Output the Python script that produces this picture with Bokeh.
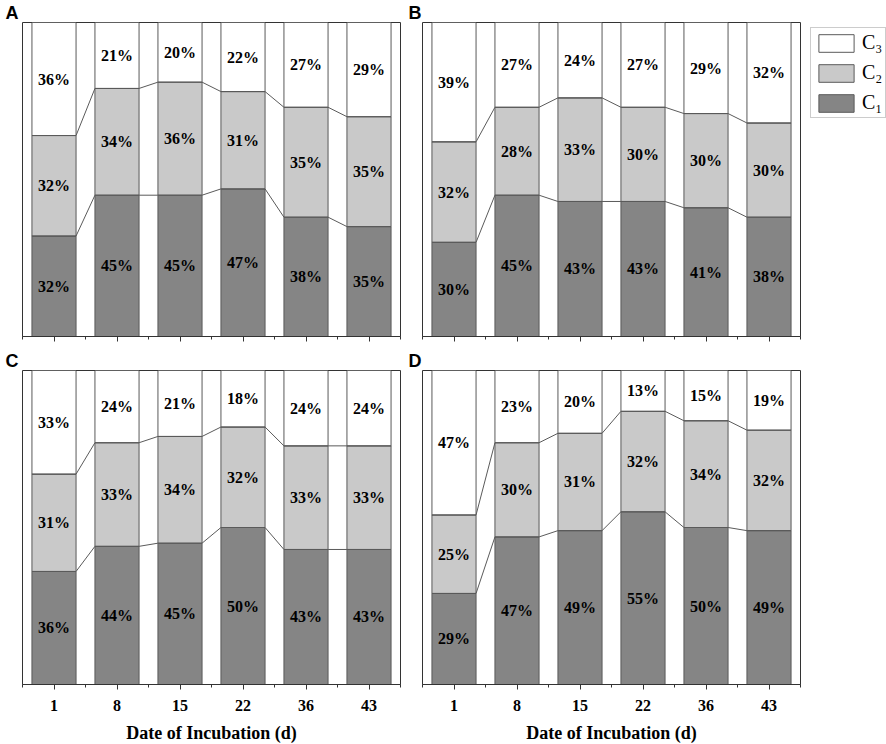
import numpy as np
from bokeh.plotting import figure
from bokeh.models import FixedTicker, Legend, LegendItem, Range1d
from bokeh.layouts import column, row
from bokeh.embed import file_html
from bokeh.resources import INLINE
from bokeh.core.properties import value

# ---------------- data ----------------
days = ["1", "8", "15", "22", "36", "43"]
series_names = ["C\u2081", "C\u2082", "C\u2083"]

c1_A = [32, 45, 45, 47, 38, 35]
c2_A = [32, 34, 36, 31, 35, 35]
c3_A = [36, 21, 20, 22, 27, 29]

c1_B = [30, 45, 43, 43, 41, 38]
c2_B = [32, 28, 33, 30, 30, 30]
c3_B = [39, 27, 24, 27, 29, 32]

c1_C = [36, 44, 45, 50, 43, 43]
c2_C = [31, 33, 34, 32, 33, 33]
c3_C = [33, 24, 21, 18, 24, 24]

c1_D = [29, 47, 49, 55, 50, 49]
c2_D = [25, 30, 31, 32, 34, 32]
c3_D = [47, 23, 20, 13, 15, 19]

TOTAL = 100
x_title = "Date of Incubation (d)"

# ---------------- style ----------------
FW, FH = 378, 314
W = 0.7
COL1, COL2, COL3 = "#858585", "#c9c9c9", "#ffffff"
EDGE = "#5a5a5a"
FRAME = "#333333"
SERIF = "Liberation Serif"


def make_panel(letter, c1, c2, c3, bottom_row, with_legend,
               bl, br, bt, bb, letter_offset):
    p = figure(frame_width=FW, frame_height=FH, output_backend="svg",
               toolbar_location=None, x_range=Range1d(0.5, len(days) + 0.5),
               y_range=Range1d(0, TOTAL),
               min_border_left=bl, min_border_right=br,
               min_border_top=bt, min_border_bottom=bb)
    p.background_fill_color = "white"
    p.border_fill_color = "white"
    p.outline_line_color = FRAME
    p.outline_line_width = 1
    p.xgrid.visible = False
    p.ygrid.visible = False
    p.yaxis.visible = False

    # panel letter as the title
    p.title.text = letter
    p.title.align = "left"
    p.title.offset = letter_offset
    p.title.standoff = 0
    p.title.text_font = "Liberation Sans"
    p.title.text_font_style = "bold"
    p.title.text_font_size = "18px"
    p.title.text_color = "black"

    x = np.arange(1, len(days) + 1)
    c1 = np.array(c1, dtype=float)
    c2 = np.array(c2, dtype=float)
    c3 = np.array(c3, dtype=float)
    cum1 = c1
    cum2 = c1 + c2
    top = np.full(len(x), float(TOTAL))

    r1 = p.vbar(x=x, bottom=0, top=cum1, width=W, fill_color=COL1,
                line_color=EDGE, line_width=1)
    r2 = p.vbar(x=x, bottom=cum1, top=cum2, width=W, fill_color=COL2,
                line_color=EDGE, line_width=1)
    r3 = p.vbar(x=x, bottom=cum2, top=top, width=W, fill_color=COL3,
                line_color=EDGE, line_width=1)

    # connecting lines along the segment boundaries
    xs = np.ravel(np.column_stack([x - W / 2, x + W / 2]))
    for level in (cum1, cum2):
        p.line(xs, np.repeat(level, 2), line_color=EDGE, line_width=1)

    # percentage labels
    for vals, lo, hi in ((c1, np.zeros(len(x)), cum1), (c2, cum1, cum2),
                         (c3, cum2, top)):
        p.text(x=x, y=(lo + hi) / 2, text=[f"{int(v)}%" for v in vals],
               text_align="center", text_baseline="middle",
               text_font=value(SERIF), text_font_style="bold",
               text_font_size="16px", text_color="black")

    ax = p.xaxis[0]
    ax.ticker = FixedTicker(ticks=list(x),
                            minor_ticks=list(np.arange(0.5, len(days) + 1, 1.0)))
    ax.axis_line_color = FRAME
    ax.major_tick_line_color = FRAME
    ax.minor_tick_line_color = FRAME
    ax.major_tick_out = 5
    ax.major_tick_in = 0
    ax.minor_tick_out = 3
    ax.minor_tick_in = 0
    if bottom_row:
        ax.major_label_overrides = {int(i): d for i, d in zip(x, days)}
        ax.major_label_text_font = SERIF
        ax.major_label_text_font_style = "bold"
        ax.major_label_text_font_size = "16px"
        ax.major_label_text_color = "black"
        ax.major_label_standoff = 10
        ax.axis_label = x_title
        ax.axis_label_text_font = SERIF
        ax.axis_label_text_font_style = "bold"
        ax.axis_label_text_font_size = "18px"
        ax.axis_label_text_color = "black"
        ax.axis_label_standoff = 9
    else:
        ax.major_label_overrides = {int(i): "" for i in x}
        ax.major_label_text_font_size = "2px"
        ax.major_label_standoff = 0

    if with_legend:
        leg = Legend(items=[LegendItem(label=series_names[2], renderers=[r3]),
                            LegendItem(label=series_names[1], renderers=[r2]),
                            LegendItem(label=series_names[0], renderers=[r1])],
                     location=(10, 218))
        leg.margin = 0
        leg.padding = 3
        leg.spacing = 7
        leg.glyph_width = 44
        leg.glyph_height = 22
        leg.label_height = 22
        leg.label_standoff = 4
        leg.label_text_font = SERIF
        leg.label_text_font_size = "20px"
        leg.label_text_color = "black"
        leg.border_line_color = "#999999"
        leg.border_line_width = 1
        leg.background_fill_color = "white"
        leg.background_fill_alpha = 1
        p.add_layout(leg, "right")
    return p


pA = make_panel("A", c1_A, c2_A, c3_A, False, False, 22, 8, 22, 12, -17)
pB = make_panel("B", c1_B, c2_B, c3_B, False, True, 14, 86, 22, 12, -14)
pC = make_panel("C", c1_C, c2_C, c3_C, True, False, 22, 8, 22, 60, -17)
pD = make_panel("D", c1_D, c2_D, c3_D, True, False, 14, 86, 22, 60, -14)

layout = column(row(pA, pB, spacing=0), row(pC, pD, spacing=0), spacing=0)
open("out.html", "w").write(file_html(layout, INLINE))
